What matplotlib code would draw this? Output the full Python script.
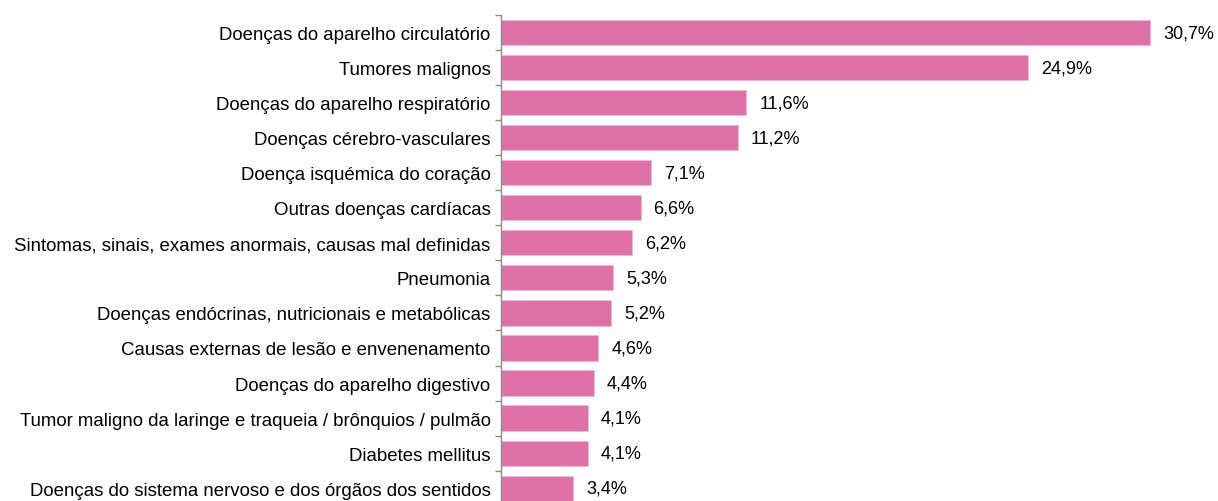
import matplotlib
matplotlib.use("Agg")
import matplotlib.pyplot as plt
import numpy as np

categories = [
    "Doenças do aparelho circulatório",
    "Tumores malignos",
    "Doenças do aparelho respiratório",
    "Doenças cérebro-vasculares",
    "Doença isquémica do coração",
    "Outras doenças cardíacas",
    "Sintomas, sinais, exames anormais, causas mal definidas",
    "Pneumonia",
    "Doenças endócrinas, nutricionais e metabólicas",
    "Causas externas de lesão e envenenamento",
    "Doenças do aparelho digestivo",
    "Tumor maligno da laringe e traqueia / brônquios / pulmão",
    "Diabetes mellitus",
    "Doenças do sistema nervoso e dos órgãos dos sentidos",
]
values = [30.7, 24.9, 11.6, 11.2, 7.1, 6.6, 6.2, 5.3, 5.2, 4.6, 4.4, 4.1, 4.1, 3.4]

plt.rcParams['font.family'] = ['Liberation Sans', 'DejaVu Sans']

W, H = 1218, 502
fig = plt.figure(figsize=(W / 100, H / 100), dpi=100)
xmax = 33.0
px_per_unit = 21.15
left_px, top_px, bottom_px = 501.0, 16.0, 506.7
ax = fig.add_axes([left_px / W, (H - bottom_px) / H,
                   xmax * px_per_unit / W, (bottom_px - top_px) / H])

n = len(categories)
y = np.arange(n)
ax.barh(y, values, height=0.72, color='#E070A8', edgecolor='#F2B6D3',
        linewidth=0.6)
ax.set_ylim(n - 0.5, -0.5)
ax.set_xlim(0, xmax)

ax.set_yticks(y)
ax.set_yticklabels(categories, fontsize=13.4, color='black')
ax.set_yticks(np.arange(n + 1) - 0.5, minor=True)
ax.tick_params(axis='y', which='major', length=0, pad=7.5)
ax.tick_params(axis='y', which='minor', length=4.5, width=1.0, color='#8C8C8C',
               direction='out')
ax.set_xticks([])

for s in ['top', 'right', 'bottom']:
    ax.spines[s].set_visible(False)
ax.spines['left'].set_color('#8C8C8C')
ax.spines['left'].set_linewidth(1.0)

for yi, v in zip(y, values):
    ax.annotate(f"{v:.1f}%".replace('.', ','), xy=(v, yi), xytext=(13, 0),
                textcoords='offset pixels', va='center', ha='left',
                fontsize=13, color='black')

fig.savefig('out.png', dpi=100)
